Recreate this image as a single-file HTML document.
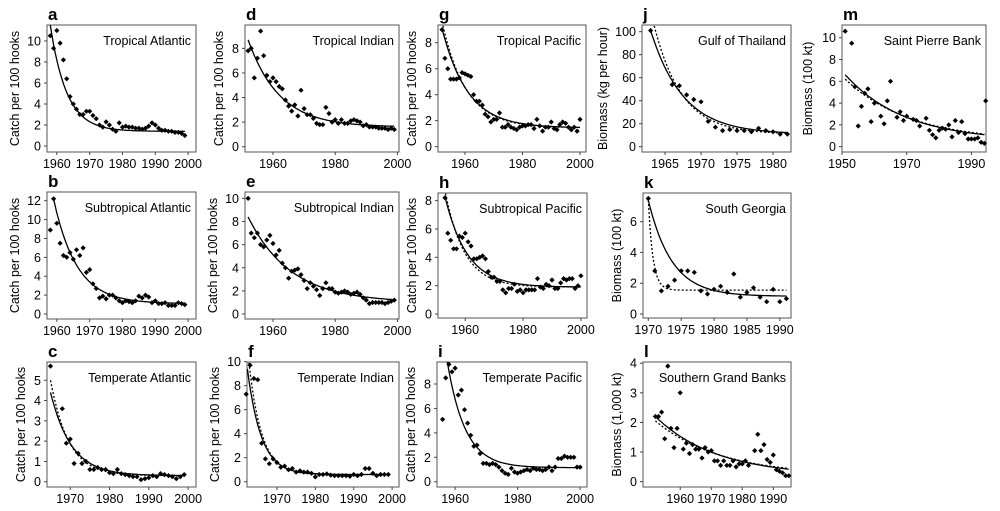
<!DOCTYPE html>
<html><head><meta charset="utf-8"><style>
html,body{margin:0;padding:0;background:#fff;}
svg{display:block;font-family:"Liberation Sans",Arial,sans-serif;}
</style></head><body>
<svg id="s" width="1000" height="511" viewBox="0 0 1000 511" xmlns="http://www.w3.org/2000/svg"></svg>
<script>
function seq(s,v){return v.map(function(y,i){return [s+i,y];});}
var P=[
{L:'a',t:'Tropical Atlantic',yl:'Catch per 100 hooks',b:[47,196,25,152],xd:[1957,2002.4],yd:[-0.57,11.52],xt:[1960,1970,1980,1990,2000],yt:[0,2,4,6,8,10],
 p:seq(1958,[10.5,9.3,11,9.8,8.2,6.4,4.7,4.0,3.5,3.0,3.0,3.3,3.3,2.9,2.6,2.0,1.8,2.3,2.0,1.6,1.4,2.2,1.8,1.9,1.8,1.8,1.7,1.7,1.6,1.7,1.9,2.2,2.0,1.7,1.5,1.5,1.4,1.4,1.3,1.3,1.2,1.0]),
 c:[[1958,1999,11.5,1.4,0.2]]},
{L:'b',t:'Subtropical Atlantic',yl:'Catch per 100 hooks',b:[47,196,192,319],xd:[1957,2002.4],yd:[-0.53,12.92],xt:[1960,1970,1980,1990,2000],yt:[0,2,4,6,8,10,12],
 p:seq(1958,[8.9,12.2,9.6,7.5,6.2,6.0,6.5,5.8,6.8,6.2,7.0,4.4,4.7,3.2,2.7,1.7,1.9,1.6,2.0,2.0,1.7,1.4,1.2,1.4,1.3,1.2,1.4,1.9,1.7,2.0,1.8,1.2,1.4,1.1,1.1,1.2,0.9,0.9,0.9,1.2,1.1,1.0]),
 c:[[1959,1999,12.2,1.1,0.143]]},
{L:'c',t:'Temperate Atlantic',yl:'Catch per 100 hooks',b:[47,196,362,487],xd:[1964.1,2002],yd:[-0.26,5.9],xt:[1970,1980,1990,2000],yt:[0,1,2,3,4,5],
 p:[[1965,5.7],[1968,3.6],[1969,1.9],[1970,2.1],[1971,0.9],[1972,1.4],[1973,0.9],[1974,1.0],[1975,0.6],[1976,0.6],[1977,0.7],[1978,0.6],[1979,0.6],[1980,0.45],[1981,0.4],[1982,0.6],[1983,0.4],[1984,0.35],[1985,0.3],[1986,0.25],[1987,0.25],[1988,0.1],[1989,0.15],[1990,0.2],[1991,0.3],[1992,0.25],[1993,0.4],[1994,0.35],[1995,0.3],[1996,0.25],[1997,0.15],[1998,0.25],[1999,0.35]],
 c:[[1965,1999,4.4,0.3,0.19],[1965,1999,5.0,0.3,0.22,1]]},
{L:'d',t:'Tropical Indian',yl:'Catch per 100 hooks',b:[245,399,25,152],xd:[1951,2000.5],yd:[-0.43,9.9],xt:[1960,1980,2000],yt:[0,2,4,6,8],
 p:seq(1952,[7.8,8.0,5.6,7.2,9.4,7.4,5.8,5.3,5.6,5.3,4.9,4.7,3.8,3.3,2.9,3.4,2.5,4.6,3.1,2.6,2.6,2.3,1.9,1.8,1.8,3.2,2.7,2.0,2.2,1.9,2.2,1.9,1.9,2.1,2.2,2.1,2.0,1.7,1.8,1.6,1.6,1.6,1.5,1.5,1.5,1.4,1.5,1.4]),
 c:[[1952,1999,8.7,1.6,0.1]]},
{L:'e',t:'Subtropical Indian',yl:'Catch per 100 hooks',b:[245,399,192,319],xd:[1951,2000.5],yd:[-0.43,10.55],xt:[1960,1980,2000],yt:[0,2,4,6,8,10],
 p:seq(1952,[10.0,7.0,6.6,7.0,6.0,5.8,6.4,6.8,6.1,5.1,5.5,4.4,4.0,3.1,3.7,3.8,3.9,3.4,2.9,2.2,2.7,2.4,2.1,1.6,2.2,2.7,2.2,2.2,1.9,1.8,1.9,2.0,1.9,1.7,1.8,1.9,1.7,1.4,1.2,0.9,1.0,1.0,1.0,1.0,0.9,1.0,1.1,1.2]),
 c:[[1952,1999,8.4,1.0,0.073]]},
{L:'f',t:'Temperate Indian',yl:'Catch per 100 hooks',b:[247,399,362,487],xd:[1962.2,2001.8],yd:[-0.44,9.97],xt:[1970,1980,1990,2000],yt:[0,2,4,6,8,10],
 p:[[1962,7.3],[1963,9.7],[1964,8.6],[1965,8.5],[1966,3.2],[1967,1.9],[1968,1.5],[1969,1.9],[1970,1.6],[1971,1.2],[1972,1.3],[1973,1.0],[1974,1.1],[1975,0.8],[1976,0.9],[1977,0.8],[1978,0.8],[1979,0.7],[1980,0.4],[1981,0.6],[1982,0.6],[1983,0.65],[1984,0.55],[1985,0.5],[1986,0.5],[1987,0.5],[1988,0.5],[1989,0.45],[1990,0.6],[1991,0.5],[1992,0.6],[1993,1.1],[1994,1.1],[1995,0.7],[1996,0.5],[1997,0.6],[1998,0.6],[1999,0.6]],
 c:[[1962.3,1999,9.4,0.6,0.28],[1962.7,1999,9.9,0.6,0.30,1]]},
{L:'g',t:'Tropical Pacific',yl:'Catch per 100 hooks',b:[438,586,25,152],xd:[1950.6,2002.1],yd:[-0.41,9.36],xt:[1960,1980,2000],yt:[0,2,4,6,8],
 p:seq(1952,[9.0,6.8,6.0,5.2,5.2,5.2,5.3,5.7,5.6,5.5,5.4,4.0,3.5,3.5,3.2,2.5,2.3,1.9,2.1,2.1,2.6,1.5,1.5,1.7,1.5,1.4,1.3,1.5,1.6,1.6,1.7,1.7,1.4,2.1,1.6,1.2,1.5,1.5,1.9,1.4,1.3,1.7,1.9,1.8,1.5,1.3,1.5,1.2,2.1]),
 c:[[1952,2000,9.1,1.45,0.113],[1952.3,2000,9.3,1.45,0.12,1]]},
{L:'h',t:'Subtropical Pacific',yl:'Catch per 100 hooks',b:[438,587,193,318],xd:[1950.6,2002.1],yd:[-0.28,8.54],xt:[1960,1980,2000],yt:[0,2,4,6,8],
 p:seq(1953,[8.2,5.7,5.2,4.6,4.6,5.5,5.4,5.7,5.1,4.8,3.9,3.9,4.0,4.1,3.9,3.0,2.6,2.6,2.3,2.3,1.7,1.5,1.8,1.8,2.1,1.6,1.7,1.5,1.7,1.7,1.7,1.7,2.5,1.9,1.8,2.1,2.0,2.4,1.8,1.8,2.2,2.5,2.4,2.5,2.5,1.8,2.0,2.7]),
 c:[[1953,2000,8.3,1.9,0.13],[1953.2,2000,8.5,1.9,0.15,1]]},
{L:'i',t:'Temperate Pacific',yl:'Catch per 100 hooks',b:[437,587,362,487],xd:[1954.2,2002.2],yd:[-0.43,9.8],xt:[1960,1980,2000],yt:[0,2,4,6,8],
 p:[[1956,5.1],[1957,8.5],[1958,9.6],[1959,9.0],[1960,9.3],[1961,7.1],[1962,7.5],[1963,5.9],[1964,4.8],[1965,3.8],[1966,2.9],[1967,3.0],[1968,2.3],[1969,1.5],[1970,1.5],[1971,1.4],[1972,1.5],[1973,1.4],[1974,1.2],[1975,0.9],[1976,0.7],[1977,0.6],[1978,1.1],[1979,0.8],[1980,0.7],[1981,0.8],[1982,0.9],[1983,1.0],[1984,0.9],[1985,1.1],[1986,1.0],[1987,1.0],[1988,0.9],[1989,1.0],[1990,1.2],[1991,0.9],[1992,1.2],[1993,1.9],[1994,1.9],[1995,2.1],[1996,2.0],[1997,2.0],[1998,2.0],[1999,1.2],[2000,1.2]],
 c:[[1957.5,2000,9.8,1.15,0.174]]},
{L:'j',t:'Gulf of Thailand',yl:'Biomass (kg per hour)',b:[642,791,25,152],xd:[1961.8,1982.5],yd:[-4.6,105.8],xt:[1965,1970,1975,1980],yt:[0,20,40,60,80,100],
 p:[[1963,101],[1966,54],[1967,53],[1968,45],[1969,41],[1970,39],[1971,22],[1972,17],[1973,14],[1974,15],[1975,14],[1976,14],[1977,13],[1978,16],[1979,14],[1980,13],[1981,11],[1982,11]],
 c:[[1963,1982,101,11,0.222],[1963.5,1982,105,11,0.26,1]]},
{L:'k',t:'South Georgia',yl:'Biomass (100 kt)',b:[643,791,193,318],xd:[1969.2,1991.7],yd:[-0.26,7.86],xt:[1970,1975,1980,1985,1990],yt:[0,2,4,6],
 p:[[1970,7.5],[1971,2.8],[1972,1.5],[1973,1.8],[1974,2.2],[1975,2.8],[1976,2.8],[1977,2.7],[1978,1.5],[1979,1.3],[1980,1.6],[1981,1.8],[1982,1.4],[1983,2.6],[1984,1.1],[1985,1.4],[1986,1.7],[1987,1.1],[1988,0.8],[1989,1.6],[1990,0.8],[1991,1.0]],
 c:[[1970,1991,7.4,1.15,0.28],[1970,1991,7.4,1.55,1.4,1]]},
{L:'l',t:'Southern Grand Banks',yl:'Biomass (1,000 kt)',b:[643,791,362,487],xd:[1948,1995.7],yd:[-0.18,4.04],xt:[1960,1970,1980,1990],yt:[0,1,2,3,4],
 p:[[1952,2.2],[1953,2.2],[1954,2.35],[1955,1.45],[1956,3.9],[1957,1.8],[1958,1.15],[1959,1.8],[1960,3.0],[1961,1.1],[1962,1.3],[1963,0.95],[1964,1.25],[1965,1.1],[1966,1.1],[1967,0.8],[1968,1.15],[1969,1.0],[1970,1.05],[1971,0.7],[1972,0.7],[1973,0.55],[1974,0.7],[1975,0.55],[1976,0.55],[1977,0.7],[1978,0.5],[1979,0.6],[1980,0.6],[1981,0.7],[1982,0.55],[1984,1.05],[1985,1.6],[1986,1.05],[1987,1.25],[1988,0.75],[1989,0.65],[1990,0.9],[1991,0.4],[1992,0.35],[1993,0.3],[1994,0.2],[1995,0.2]],
 c:[[1952,1995,2.2,0.2,0.051],[1952,1995,2.05,0.2,0.047,1]]},
{L:'m',t:'Saint Pierre Bank',yl:'Biomass (100 kt)',b:[842,986,25,152],xd:[1950,1994.5],yd:[-0.49,11.17],xt:[1950,1970,1990],yt:[0,2,4,6,8,10],lx:812,
 p:[[1951,10.6],[1953,9.5],[1954,5.5],[1955,1.9],[1956,3.7],[1957,4.9],[1958,5.3],[1959,2.3],[1960,4.0],[1962,2.8],[1963,2.1],[1964,4.2],[1965,6.0],[1967,2.7],[1968,3.2],[1969,2.4],[1970,2.8],[1972,2.5],[1973,2.4],[1974,1.9],[1976,2.6],[1977,1.5],[1978,1.1],[1979,0.8],[1980,1.5],[1981,1.7],[1982,1.6],[1983,2.0],[1984,0.9],[1985,2.4],[1986,1.3],[1987,2.3],[1988,1.2],[1989,0.7],[1990,0.7],[1991,0.7],[1992,0.8],[1993,0.4],[1994,0.3],[1994.4,4.2]],
 c:[[1951,1994,6.6,0.5,0.054],[1951,1994,6.2,0.5,0.05,1]]}
];
var o='';
P.forEach(function(q){
 var x0=q.b[0],x1=q.b[1],y0=q.b[2],y1=q.b[3];
 function X(v){return x0+(v-q.xd[0])/(q.xd[1]-q.xd[0])*(x1-x0);}
 function Y(v){return y1-(v-q.yd[0])/(q.yd[1]-q.yd[0])*(y1-y0);}
 o+='<text x="'+(x0+1)+'" y="'+(y0-5)+'" font-size="17" font-weight="bold">'+q.L+'</text>';
 o+='<rect x="'+x0+'" y="'+y0+'" width="'+(x1-x0)+'" height="'+(y1-y0)+'" fill="none" stroke="#555" stroke-width="1"/>';
 q.xt.forEach(function(v){var x=X(v);o+='<line x1="'+x+'" x2="'+x+'" y1="'+y1+'" y2="'+(y1+3)+'" stroke="#444"/><text x="'+x+'" y="'+(y1+16)+'" font-size="12.5" text-anchor="middle">'+v+'</text>';});
 q.yt.forEach(function(v){var y=Y(v);o+='<line x1="'+(x0-3)+'" x2="'+x0+'" y1="'+y+'" y2="'+y+'" stroke="#444"/><text x="'+(x0-6)+'" y="'+(y+4.5)+'" font-size="12.5" text-anchor="end">'+v+'</text>';});
 var lx=q.lx||(x0-(q.yt[q.yt.length-1]>=100?35:(q.yt[q.yt.length-1]>=10?28:22))),ly=(y0+y1)/2;
 o+='<text transform="translate('+lx+','+ly+') rotate(-90)" font-size="12.5" text-anchor="middle">'+q.yl+'</text>';
 o+='<text x="'+(x1-5)+'" y="'+(y0+20)+'" font-size="12.5" text-anchor="end">'+q.t+'</text>';
 o+='<clipPath id="c'+q.L+'"><rect x="'+x0+'" y="'+y0+'" width="'+(x1-x0)+'" height="'+(y1-y0)+'"/></clipPath>';
 q.c.forEach(function(c){
  var d='',n=80;
  for(var i=0;i<=n;i++){var t=c[0]+(c[1]-c[0])*i/n;var v=c[3]+(c[2]-c[3])*Math.exp(-c[4]*(t-c[0]));d+=(i?'L':'M')+X(t).toFixed(1)+','+Y(v).toFixed(1);}
  o+='<path d="'+d+'" fill="none" stroke="#000" stroke-width="1.3" clip-path="url(#c'+q.L+')"'+(c[5]?' stroke-dasharray="2,2"':'')+'/>';
 });
 q.p.forEach(function(p){var x=X(p[0]),y=Y(p[1]);o+='<path d="M'+(x-2.6).toFixed(1)+','+y.toFixed(1)+'L'+x.toFixed(1)+','+(y-2.6).toFixed(1)+'L'+(x+2.6).toFixed(1)+','+y.toFixed(1)+'L'+x.toFixed(1)+','+(y+2.6).toFixed(1)+'Z" fill="#000"/>';});
});
document.getElementById('s').innerHTML=o;
</script>
</body></html>
